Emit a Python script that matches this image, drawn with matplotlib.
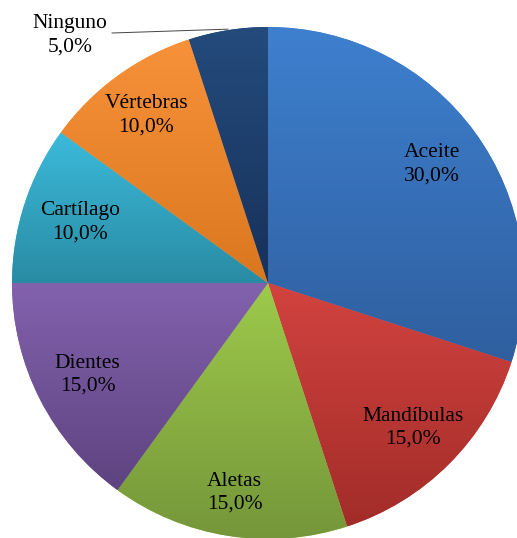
import numpy as np
import matplotlib.pyplot as plt
from matplotlib.colors import LinearSegmentedColormap

plt.rcParams['font.family'] = ['Liberation Serif', 'DejaVu Serif']

categorias = ["Aceite", "Mandíbulas", "Aletas", "Dientes", "Cartílago", "Vértebras", "Ninguno"]
porcentajes = [30.0, 15.0, 15.0, 15.0, 10.0, 10.0, 5.0]

# color claro (arriba) y oscuro (abajo) de cada porción
colores_arriba = ["#3e80cf", "#d2433f", "#9dca4b", "#8262ad", "#3cbadb", "#f8923a", "#244b7c"]
colores_abajo = ["#2f5f9f", "#a22c29", "#75963a", "#5e4380", "#298ba3", "#d9771f", "#17315a"]

# distancia de cada etiqueta al centro (en radios); None = etiqueta fuera
dist_etiquetas = [0.79, 0.80, 0.83, 0.79, 0.77, 0.81, None]

W, H = 517, 538
fig = plt.figure(figsize=(W / 100, H / 100), dpi=100)
ax = fig.add_axes([0, 0, 1, 1])

cx, cy, R = 268, H - 283, 256
wedges, _ = ax.pie(porcentajes, startangle=90, counterclock=False,
                   center=(cx, cy), radius=R, colors=colores_arriba,
                   wedgeprops=dict(linewidth=0))

# degradado vertical dentro de cada porción
for w, c1, c2 in zip(wedges, colores_arriba, colores_abajo):
    bb = w.get_path().get_extents(w.get_patch_transform())
    cmap = LinearSegmentedColormap.from_list("g", [c2, c1])
    grad = np.linspace(0, 1, 256).reshape(-1, 1)
    im = ax.imshow(grad, cmap=cmap, origin="lower", aspect="auto",
                   extent=[bb.x0, bb.x1, bb.y0, bb.y1], zorder=2)
    im.set_clip_path(w)
ax.set_xlim(0, W)
ax.set_ylim(0, H)
ax.set_aspect("equal")
ax.axis("off")

for w, nombre, p, d in zip(wedges, categorias, porcentajes, dist_etiquetas):
    ang = np.deg2rad((w.theta1 + w.theta2) / 2)
    texto = f"{nombre}\n{p:.1f}%".replace(".", ",")
    if d is None:
        # etiqueta fuera del círculo con línea guía
        x, y = 70, H - 35
        ex = cx + R * np.cos(ang)
        ey = cy + R * np.sin(ang)
        ax.plot([x + 42, ex], [y + 2, ey + 1], color="#444444", lw=0.7, zorder=5)
    else:
        x = cx + d * R * np.cos(ang)
        y = cy + d * R * np.sin(ang)
    ax.text(x, y, texto, ha="center", va="center", fontsize=15.5,
            linespacing=1.3, zorder=5)

fig.savefig("out.png", dpi=100)
